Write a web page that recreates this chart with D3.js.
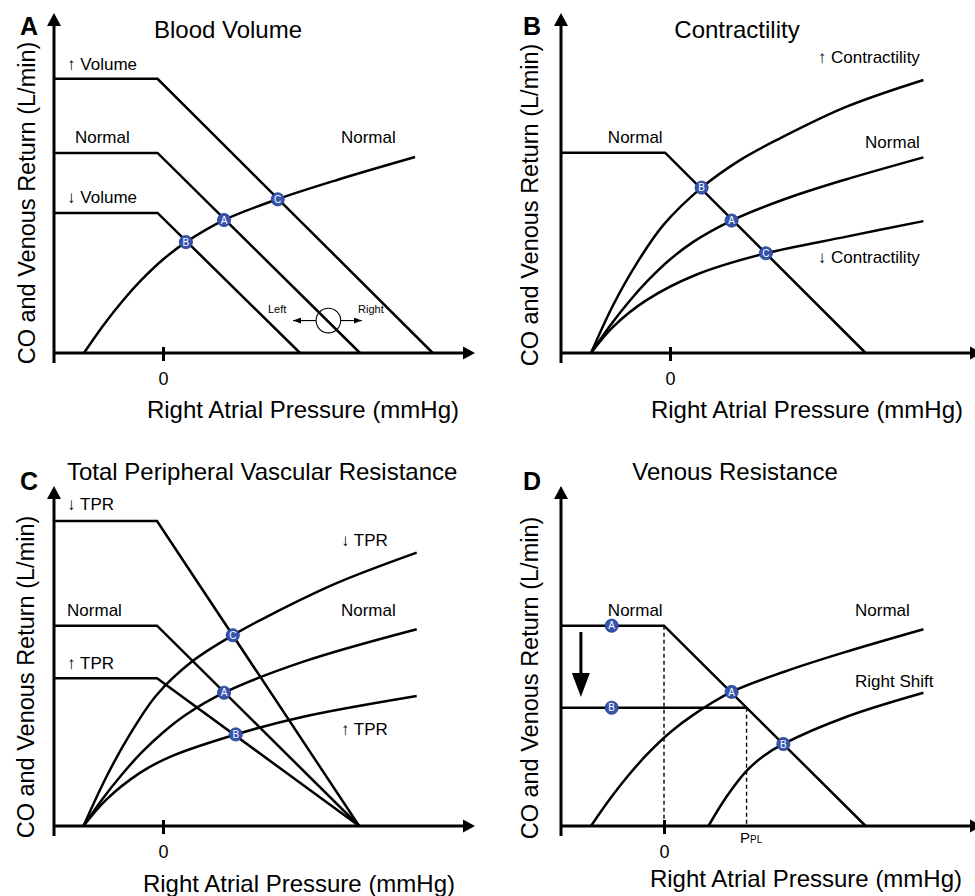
<!DOCTYPE html>
<html><head><meta charset="utf-8">
<script src="https://cdn.jsdelivr.net/npm/d3@7"></script>
<style>
body{margin:0;background:#fff}
svg{display:block}
text{font-family:"Liberation Sans",Arial,Helvetica,sans-serif;fill:#000}
</style>
</head><body>
<svg id="chart" width="975" height="896"></svg>
<script>
// ---------------- DATA (x: right atrial pressure units, y: CO / venous return units) ----------------
const xTicks = [0];

// Panel A – Blood Volume
const A_vrUp     = [[-4,10.06],[-0.2,10.06],[9.9,0]];
const A_vrNormal = [[-4,7.34],[-0.2,7.34],[7.23,0]];
const A_vrDown   = [[-4,5.14],[-0.2,5.14],[5.03,0]];
const A_coNormal = [[-2.9,0],[-2.2,1.0],[-1.5,1.89],[-0.8,2.67],[0,3.43],[0.84,4.07],[2.24,4.88],[4.22,5.65],[6.39,6.35],[9.25,7.19]];
const A_points   = [{l:"B",x:0.84,y:4.07},{l:"A",x:2.24,y:4.88},{l:"C",x:4.21,y:5.64}];

// Panel B – Contractility
const B_vrNormal = [[-4,7.35],[-0.18,7.35],[7.18,0]];
const B_coUp     = [[-2.9,0],[-2.08,1.77],[-1.22,3.29],[-0.24,4.7],[1.16,6.07],[2.57,7.08],[4.04,7.88],[6.48,9.04],[9.3,10.02]];
const B_coNormal = [[-2.9,0],[-2.2,1.0],[-1.5,1.89],[-0.8,2.67],[0,3.43],[0.84,4.07],[2.26,4.86],[4.22,5.65],[6.39,6.35],[9.3,7.18]];
const B_coDown   = [[-2.9,0],[-2.08,0.97],[-0.86,1.94],[0.98,2.88],[3.52,3.66],[6.48,4.27],[9.3,4.84]];
const B_points   = [{l:"B",x:1.16,y:6.07},{l:"A",x:2.26,y:4.86},{l:"C",x:3.52,y:3.66}];

// Panel C – Total Peripheral Vascular Resistance
const C_vrDown   = [[-4,11.19],[-0.22,11.19],[7.2,0]];
const C_vrNormal = [[-4,7.35],[-0.22,7.35],[7.2,0]];
const C_vrUp     = [[-4,5.42],[-0.22,5.42],[7.2,0]];
const C_coDown   = [[-2.92,0],[-2.08,1.8],[-1.22,3.35],[-0.24,4.8],[1.11,6.07],[2.56,7.0],[3.93,7.74],[6.37,8.91],[9.31,10.03]];
const C_coNormal = [[-2.92,0],[-2.2,1.02],[-1.5,1.9],[-0.8,2.68],[0,3.43],[0.84,4.08],[2.24,4.89],[5.15,6.03],[9.31,7.22]];
const C_coUp     = [[-2.92,0],[-2.08,0.97],[-0.86,1.94],[0.26,2.54],[2.67,3.36],[5.15,4.01],[9.31,4.77]];
const C_points   = [{l:"C",x:2.56,y:7.0},{l:"A",x:2.24,y:4.89},{l:"B",x:2.67,y:3.36}];

// Panel D – Venous Resistance
const D_vrNormal = [[-3.78,7.35],[0,7.35],[7.4,0]];
const D_vrLow    = [[-3.78,4.34],[3.03,4.34]];
const D_dashed   = [[[0,7.35],[0,0]],[[3.03,4.34],[3.03,0]]];
const D_coNormal = [[-2.68,0],[-1.98,1.0],[-1.28,1.89],[-0.58,2.67],[0.22,3.43],[1.06,4.07],[2.48,4.92],[4.44,5.67],[6.61,6.37],[9.52,7.22]];
const D_coShift  = [[1.63,0],[2.3,1.08],[3.03,2.02],[3.63,2.55],[4.38,3.01],[6.7,4.01],[9.52,4.89]];
const D_points   = [{l:"A",x:-1.92,y:7.35},{l:"B",x:-1.92,y:4.34},{l:"A",x:2.48,y:4.92},{l:"B",x:4.38,y:3.01}];
const D_shiftArrow = [[-3.05,7.12],[-3.05,4.73]];

// Text labels
const A_labels = [
  {t:"↑ Volume",x:-3.52,y:10.39,a:"start"},{t:"Normal",x:-3.23,y:7.71,a:"start"},
  {t:"↓ Volume",x:-3.52,y:5.5,a:"start"},{t:"Normal",x:6.53,y:7.71,a:"start"}];
const B_labels = [
  {t:"↑ Contractility",x:9.17,y:10.64,a:"end"},{t:"Normal",x:9.17,y:7.52,a:"end"},
  {t:"↓ Contractility",x:9.17,y:3.3,a:"end"},{t:"Normal",x:-2.28,y:7.71,a:"start"}];
const C_labels = [
  {t:"↓ TPR",x:-3.52,y:11.6,a:"start"},{t:"Normal",x:-3.52,y:7.71,a:"start"},{t:"↑ TPR",x:-3.52,y:5.76,a:"start"},
  {t:"↓ TPR",x:6.53,y:10.28,a:"start"},{t:"Normal",x:6.53,y:7.71,a:"start"},{t:"↑ TPR",x:6.53,y:3.35,a:"start"}];
const D_labels = [
  {t:"Normal",x:-2.06,y:7.71,a:"start"},{t:"Normal",x:7.01,y:7.71,a:"start"},{t:"Right Shift",x:7.01,y:5.1,a:"start"}];

// ---------------- DRAWING ----------------
const svg = d3.select("#chart");
const K = 27.25, XLEN = 421, YLEN = 340;

const defs = svg.append("defs");
defs.append("marker").attr("id","sm").attr("viewBox","0 0 8 6").attr("refX",8).attr("refY",3)
  .attr("markerWidth",8).attr("markerHeight",6).attr("markerUnits","userSpaceOnUse").attr("orient","auto")
  .append("path").attr("d","M0,0L8,3L0,6Z").attr("fill","#000");

const panels = [
  {ox:54, oy:353, xmin:-4, letter:"A", lx:29, ly:35, title:"Blood Volume", tx:228, ty:38, ta:"middle",
   yt:[35,203], xt:[303,418],
   vr:[A_vrUp,A_vrNormal,A_vrDown], co:[A_coNormal], pts:A_points, labels:A_labels},
  {ox:561, oy:353, xmin:-4, letter:"B", lx:532, ly:35, title:"Contractility", tx:737, ty:38, ta:"middle",
   yt:[538,205], xt:[807,418],
   vr:[B_vrNormal], co:[B_coUp,B_coNormal,B_coDown], pts:B_points, labels:B_labels},
  {ox:54, oy:826, xmin:-4, letter:"C", lx:29, ly:490, title:"Total Peripheral Vascular Resistance", tx:67, ty:480, ta:"start",
   yt:[34,677], xt:[299,892],
   vr:[C_vrDown,C_vrNormal,C_vrUp], co:[C_coDown,C_coNormal,C_coUp], pts:C_points, labels:C_labels},
  {ox:561, oy:826, xmin:-3.78, letter:"D", lx:532, ly:490, title:"Venous Resistance", tx:735, ty:480, ta:"middle",
   yt:[538,678], xt:[806,887],
   vr:[D_vrNormal,D_vrLow], co:[D_coNormal,D_coShift], pts:D_points, labels:D_labels}
];

panels.forEach((p,i)=>{
  const g = svg.append("g");
  const x = d3.scaleLinear().domain([p.xmin, p.xmin + XLEN/K]).range([p.ox, p.ox + XLEN]);
  const y = d3.scaleLinear().domain([0, YLEN/K]).range([p.oy, p.oy - YLEN]);
  const lin = d3.line().x(d=>x(d[0])).y(d=>y(d[1]));
  const smooth = d3.line().x(d=>x(d[0])).y(d=>y(d[1])).curve(d3.curveCatmullRom.alpha(0.5));

  if (p.letter==="D") {
    D_dashed.forEach(seg=>{
      g.append("path").attr("d",lin(seg)).attr("fill","none").attr("stroke","#000")
        .attr("stroke-width",1.4).attr("stroke-dasharray","4,3");
    });
  }

  p.vr.forEach(d=>{
    g.append("path").attr("d",lin(d)).attr("fill","none").attr("stroke","#000")
      .attr("stroke-width",2.5).attr("stroke-linejoin","miter");
  });
  p.co.forEach(d=>{
    g.append("path").attr("d",smooth(d)).attr("fill","none").attr("stroke","#000").attr("stroke-width",2.5);
  });

  const ax = g.append("g").attr("transform",`translate(0,${p.oy})`)
    .call(d3.axisBottom(x).tickValues(xTicks).tickFormat(d3.format("d")).tickSize(8).tickPadding(11));
  ax.select(".domain").remove();
  ax.selectAll(".tick line").attr("y1",-6).attr("stroke","#000").attr("stroke-width",3);
  ax.selectAll(".tick text").style("font-size","18px").style("fill","#000");

  const top = y.range()[1], right = x.range()[1];
  g.append("line").attr("x1",p.ox).attr("x2",p.ox).attr("y1",p.oy+10).attr("y2",top+10)
    .attr("stroke","#000").attr("stroke-width",3);
  g.append("path").attr("d",`M${p.ox},${top}L${p.ox-7},${top+13}L${p.ox+7},${top+13}Z`).attr("fill","#000");
  g.append("line").attr("x1",p.ox).attr("x2",right-8).attr("y1",p.oy).attr("y2",p.oy)
    .attr("stroke","#000").attr("stroke-width",3);
  g.append("path").attr("d",`M${right},${p.oy}L${right-12},${p.oy-6.5}L${right-12},${p.oy+6.5}Z`).attr("fill","#000");

  g.append("text").attr("x",p.lx).attr("y",p.ly).attr("text-anchor","middle")
    .style("font-size","25px").style("font-weight","bold").text(p.letter);
  g.append("text").attr("x",p.tx).attr("y",p.ty).attr("text-anchor",p.ta).style("font-size","24px").text(p.title);
  g.append("text").attr("transform",`translate(${p.yt[0]},${p.yt[1]}) rotate(-90)`).attr("text-anchor","middle")
    .style("font-size","23.5px").text("CO and Venous Return (L/min)");
  g.append("text").attr("x",p.xt[0]).attr("y",p.xt[1]).attr("text-anchor","middle")
    .style("font-size","24px").text("Right Atrial Pressure (mmHg)");

  p.labels.forEach(l=>{
    g.append("text").attr("x",x(l.x)).attr("y",y(l.y)).attr("text-anchor",l.a).style("font-size","17px").text(l.t);
  });

  if (p.letter==="A") {
    const cx = x(6.07), cy = y(1.19);
    g.append("circle").attr("cx",cx).attr("cy",cy).attr("r",12.3).attr("fill","none").attr("stroke","#000").attr("stroke-width",1.1);
    g.append("line").attr("x1",x(5.61)).attr("x2",x(4.77)).attr("y1",cy).attr("y2",cy)
      .attr("stroke","#000").attr("stroke-width",1.1).attr("marker-end","url(#sm)");
    g.append("line").attr("x1",x(6.52)).attr("x2",x(7.3)).attr("y1",cy).attr("y2",cy)
      .attr("stroke","#000").attr("stroke-width",1.1).attr("marker-end","url(#sm)");
    g.append("text").attr("x",x(3.85)).attr("y",y(1.47)).style("font-size","11px").text("Left");
    g.append("text").attr("x",x(7.16)).attr("y",y(1.47)).style("font-size","11px").text("Right");
  }
  if (p.letter==="D") {
    const ax0 = x(D_shiftArrow[0][0]), y0 = y(D_shiftArrow[0][1]), y1 = y(D_shiftArrow[1][1]);
    g.append("line").attr("x1",ax0).attr("x2",ax0).attr("y1",y0).attr("y2",y1-20)
      .attr("stroke","#000").attr("stroke-width",3);
    g.append("path").attr("d",`M${ax0},${y1}L${ax0-9},${y1-24}L${ax0+9},${y1-24}Z`).attr("fill","#000");
    const pt = g.append("text").attr("x",x(2.79)).attr("y",y(-0.62)).style("font-size","15px");
    pt.append("tspan").text("P");
    pt.append("tspan").style("font-size","10px").text("PL");
  }

  const m = g.selectAll(".pt").data(p.pts).join("g").attr("transform",d=>`translate(${x(d.x)},${y(d.y)})`);
  m.append("circle").attr("r",6.6).attr("fill","#3553ad").attr("stroke","#26408f").attr("stroke-width",0.8);
  m.append("text").attr("text-anchor","middle").attr("dy","0.36em").style("font-size","10px")
    .style("fill","#fff").text(d=>d.l);
});
</script>
</body></html>
